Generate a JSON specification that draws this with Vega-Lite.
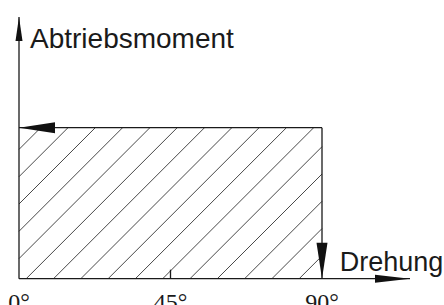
{
  "$schema": "https://vega.github.io/schema/vega-lite/v6.json",
  "width": 444,
  "height": 305,
  "padding": 0,
  "autosize": {"type": "none"},
  "background": "white",
  "config": {"view": {"stroke": null}},
  "datasets": {
    "hatch": [
      {"id": 1, "x": 0, "y": 129.3}, {"id": 1, "x": 6.45, "y": 151},
      {"id": 2, "x": 0, "y": 102}, {"id": 2, "x": 14.55, "y": 151},
      {"id": 3, "x": 0, "y": 74.7}, {"id": 3, "x": 22.66, "y": 151},
      {"id": 4, "x": 0, "y": 47.4}, {"id": 4, "x": 30.77, "y": 151},
      {"id": 5, "x": 0, "y": 20.1}, {"id": 5, "x": 38.88, "y": 151},
      {"id": 6, "x": 2.14, "y": 0}, {"id": 6, "x": 46.99, "y": 151},
      {"id": 7, "x": 10.25, "y": 0}, {"id": 7, "x": 55.1, "y": 151},
      {"id": 8, "x": 18.36, "y": 0}, {"id": 8, "x": 63.21, "y": 151},
      {"id": 9, "x": 26.47, "y": 0}, {"id": 9, "x": 71.32, "y": 151},
      {"id": 10, "x": 34.57, "y": 0}, {"id": 10, "x": 79.43, "y": 151},
      {"id": 11, "x": 42.68, "y": 0}, {"id": 11, "x": 87.53, "y": 151},
      {"id": 12, "x": 50.79, "y": 0}, {"id": 12, "x": 90, "y": 132},
      {"id": 13, "x": 58.9, "y": 0}, {"id": 13, "x": 90, "y": 104.7},
      {"id": 14, "x": 67.01, "y": 0}, {"id": 14, "x": 90, "y": 77.4},
      {"id": 15, "x": 75.12, "y": 0}, {"id": 15, "x": 90, "y": 50.1},
      {"id": 16, "x": 83.23, "y": 0}, {"id": 16, "x": 90, "y": 22.8}
    ],
    "frame": [
      {"part": "y-axis", "x": 0, "y": 0, "x2": 0, "y2": 261.7},
      {"part": "x-axis", "x": 0, "y": 0, "x2": 116.14, "y2": 0},
      {"part": "top", "x": 0, "y": 151, "x2": 90, "y2": 151},
      {"part": "right", "x": 90, "y": 0, "x2": 90, "y2": 151},
      {"part": "tick45", "x": 45, "y": 0, "x2": 45, "y2": 9}
    ],
    "arrows": [
      {"dir": "up", "x": 0, "y": 261.7},
      {"dir": "right", "x": 116.14, "y": 0},
      {"dir": "left", "x": 0, "y": 151},
      {"dir": "down", "x": 90, "y": 0}
    ],
    "ticks": [
      {"x": 0, "y": -30.8, "label": "0°"},
      {"x": 45, "y": -30.8, "label": "45°"},
      {"x": 90, "y": -30.8, "label": "90°"}
    ],
    "titles": [
      {"x": 3.27, "y": 230.4, "label": "Abtriebsmoment", "size": "a"},
      {"x": 95.26, "y": 7.7, "label": "Drehung", "size": "b"}
    ]
  },
  "encoding": {
    "x": {"field": "x", "type": "quantitative", "scale": {"domain": [-5.644, 126.238], "nice": false, "zero": false}, "axis": null},
    "y": {"field": "y", "type": "quantitative", "scale": {"domain": [-26.3, 278.7], "nice": false, "zero": false}, "axis": null}
  },
  "layer": [
    {
      "data": {"name": "hatch"},
      "mark": {"type": "line", "color": "#333333", "strokeWidth": 0.9},
      "encoding": {"detail": {"field": "id", "type": "nominal"}}
    },
    {
      "data": {"name": "frame"},
      "mark": {"type": "rule", "color": "#1a1a1a", "strokeWidth": 1.3},
      "encoding": {"x2": {"field": "x2"}, "y2": {"field": "y2"}}
    },
    {
      "data": {"name": "arrows"},
      "transform": [{"filter": "datum.dir === 'up'"}],
      "mark": {"type": "point", "shape": "M0,0L3.5,24L-3.5,24Z", "size": 4, "filled": true, "color": "#111111", "opacity": 1, "strokeWidth": 0}
    },
    {
      "data": {"name": "arrows"},
      "transform": [{"filter": "datum.dir === 'right'"}],
      "mark": {"type": "point", "shape": "M0,0L-35,-4L-35,4Z", "size": 4, "filled": true, "color": "#111111", "opacity": 1, "strokeWidth": 0}
    },
    {
      "data": {"name": "arrows"},
      "transform": [{"filter": "datum.dir === 'left'"}],
      "mark": {"type": "point", "shape": "M0,0L36,-5.5L36,5.5Z", "size": 4, "filled": true, "color": "#111111", "opacity": 1, "strokeWidth": 0}
    },
    {
      "data": {"name": "arrows"},
      "transform": [{"filter": "datum.dir === 'down'"}],
      "mark": {"type": "point", "shape": "M0,0L-5.5,-36L5.5,-36Z", "size": 4, "filled": true, "color": "#111111", "opacity": 1, "strokeWidth": 0}
    },
    {
      "data": {"name": "ticks"},
      "mark": {"type": "text", "font": "Liberation Serif", "fontSize": 24, "align": "center", "baseline": "alphabetic", "color": "#1a1a1a"},
      "encoding": {"text": {"field": "label"}}
    },
    {
      "data": {"name": "titles"},
      "transform": [{"filter": "datum.size === 'a'"}],
      "mark": {"type": "text", "font": "Liberation Sans", "fontSize": 28, "align": "left", "baseline": "alphabetic", "color": "#1a1a1a"},
      "encoding": {"text": {"field": "label"}}
    },
    {
      "data": {"name": "titles"},
      "transform": [{"filter": "datum.size === 'b'"}],
      "mark": {"type": "text", "font": "Liberation Sans", "fontSize": 27, "align": "left", "baseline": "alphabetic", "color": "#1a1a1a"},
      "encoding": {"text": {"field": "label"}}
    }
  ]
}
